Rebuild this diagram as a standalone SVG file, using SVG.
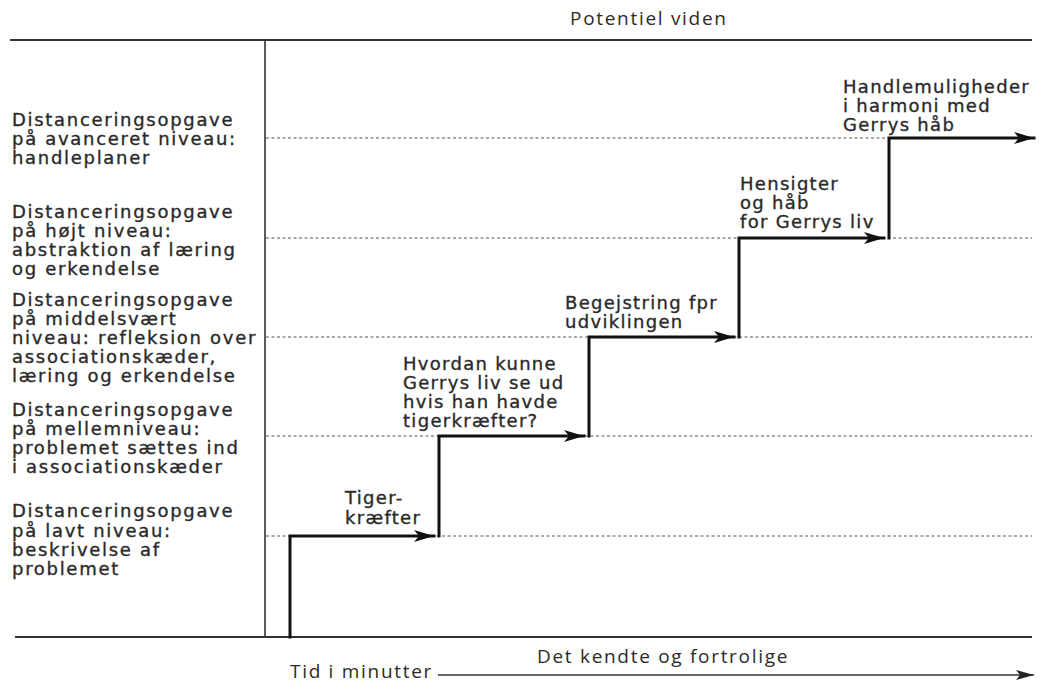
<svg xmlns="http://www.w3.org/2000/svg" width="1048" height="684" viewBox="0 0 1048 684">
<defs>
<style>
.lbl{font-family:"DejaVu Sans",sans-serif;font-size:18px;fill:#2a2a2a;stroke:#2a2a2a;stroke-width:0.35;letter-spacing:1.7px}
.stp{font-family:"DejaVu Sans",sans-serif;font-size:18px;fill:#2a2a2a;stroke:#2a2a2a;stroke-width:0.35;letter-spacing:1.3px}
.ax{font-family:"Open Sans",sans-serif;font-size:19px;fill:#2a2a2a;letter-spacing:1.7px}
.frame{stroke:#333;stroke-width:2;fill:none}
.vax{stroke:#333;stroke-width:1.6;fill:none}
.dash{stroke:#555;stroke-width:1;stroke-dasharray:3 2.5;fill:none}
.step{stroke:#111;stroke-width:3;fill:none;stroke-linecap:square}
.time{stroke:#333;stroke-width:1.3;fill:none}
</style>
<marker id="ah" viewBox="0 0 20 12" refX="20" refY="6" markerWidth="20" markerHeight="12" markerUnits="userSpaceOnUse" orient="auto">
<path d="M0,0 L20,6 L0,12 L5,6 Z" fill="#111"/>
</marker>
<marker id="ah2" viewBox="0 0 18 10" refX="18" refY="5" markerWidth="18" markerHeight="10" markerUnits="userSpaceOnUse" orient="auto">
<path d="M0,0 L18,5 L0,10 L4,5 Z" fill="#222"/>
</marker>
</defs>

<g id="frame">
<line class="frame" x1="10" y1="40" x2="1032" y2="40"/>
<line class="frame" x1="15" y1="637" x2="1032" y2="637"/>
<line class="vax" x1="265" y1="40" x2="265" y2="637"/>
</g>

<g id="levels">
<line class="dash" x1="266" y1="138" x2="889" y2="138"/>
<line class="dash" x1="266" y1="238" x2="1032" y2="238"/>
<line class="dash" x1="266" y1="337" x2="1032" y2="337"/>
<line class="dash" x1="266" y1="436" x2="1032" y2="436"/>
<line class="dash" x1="266" y1="536" x2="1032" y2="536"/>
</g>

<g id="connectors">
<path class="step" d="M290,637 V536 H434" marker-end="url(#ah)"/>
<path class="step" d="M439,536 V436 H584" marker-end="url(#ah)"/>
<path class="step" d="M589,436 V337 H734" marker-end="url(#ah)"/>
<path class="step" d="M739,337 V238 H884" marker-end="url(#ah)"/>
<path class="step" d="M889,238 V138 H1034" marker-end="url(#ah)"/>
<path class="time" d="M438,675 H1034" marker-end="url(#ah2)"/>
</g>

<g id="axis-labels">
<text class="ax" x="570" y="25">Potentiel viden</text>
<text class="ax" x="537" y="663">Det kendte og fortrolige</text>
<text class="ax" x="290" y="678">Tid i minutter</text>
</g>

<g id="level-advanced">
<text class="lbl" x="12" y="126">Distanceringsopgave</text>
<text class="lbl" x="12" y="145">på avanceret niveau:</text>
<text class="lbl" x="12" y="164">handleplaner</text>
</g>
<g id="level-high">
<text class="lbl" x="12" y="218">Distanceringsopgave</text>
<text class="lbl" x="12" y="237">på højt niveau:</text>
<text class="lbl" x="12" y="256">abstraktion af læring</text>
<text class="lbl" x="12" y="275">og erkendelse</text>
</g>
<g id="level-medium">
<text class="lbl" x="12" y="306">Distanceringsopgave</text>
<text class="lbl" x="12" y="325">på middelsvært</text>
<text class="lbl" x="12" y="344" letter-spacing="0.9">niveau: refleksion over</text>
<text class="lbl" x="12" y="363">associationskæder,</text>
<text class="lbl" x="12" y="382">læring og erkendelse</text>
</g>
<g id="level-intermediate">
<text class="lbl" x="12" y="416">Distanceringsopgave</text>
<text class="lbl" x="12" y="435">på mellemniveau:</text>
<text class="lbl" x="12" y="454">problemet sættes ind</text>
<text class="lbl" x="12" y="473">i associationskæder</text>
</g>
<g id="level-low">
<text class="lbl" x="12" y="517">Distanceringsopgave</text>
<text class="lbl" x="12" y="537">på lavt niveau:</text>
<text class="lbl" x="12" y="556">beskrivelse af</text>
<text class="lbl" x="12" y="575">problemet</text>
</g>

<g id="step-1">
<text class="stp" x="345" y="504">Tiger-</text>
<text class="stp" x="345" y="524">kræfter</text>
</g>
<g id="step-2">
<text class="stp" x="403" y="370">Hvordan kunne</text>
<text class="stp" x="403" y="389">Gerrys liv se ud</text>
<text class="stp" x="403" y="408">hvis han havde</text>
<text class="stp" x="403" y="427">tigerkræfter?</text>
</g>
<g id="step-3">
<text class="stp" x="565" y="309">Begejstring fpr</text>
<text class="stp" x="565" y="328">udviklingen</text>
</g>
<g id="step-4">
<text class="stp" x="740" y="190">Hensigter</text>
<text class="stp" x="740" y="209">og håb</text>
<text class="stp" x="740" y="228">for Gerrys liv</text>
</g>
<g id="step-5">
<text class="stp" x="843" y="93">Handlemuligheder</text>
<text class="stp" x="843" y="112">i harmoni med</text>
<text class="stp" x="843" y="131">Gerrys håb</text>
</g>
</svg>
